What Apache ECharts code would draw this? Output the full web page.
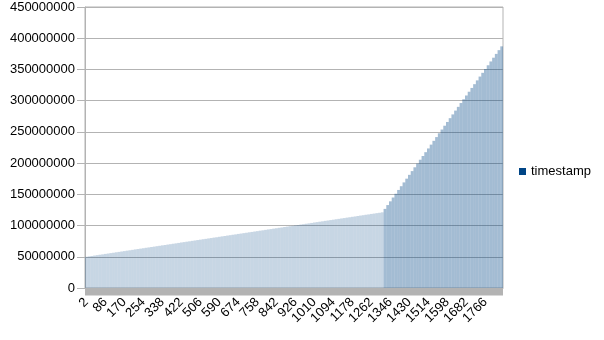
<!DOCTYPE html>
<html>
<head>
<meta charset="utf-8">
<script src="https://cdn.jsdelivr.net/npm/echarts@6/dist/echarts.min.js"></script>
<style>
html,body{margin:0;padding:0;background:#fff;}
#chart{width:604px;height:340px;}
</style>
</head>
<body>
<div id="chart"></div>
<script>
// Category labels (row numbers), one bar per 12 rows
const categories = [2,14,26,38,50,62,74,86,98,110,122,134,146,158,170,182,194,206,218,230,242,254,266,278,290,302,314,326,338,350,362,374,386,398,410,422,434,446,458,470,482,494,506,518,530,542,554,566,578,590,602,614,626,638,650,662,674,686,698,710,722,734,746,758,770,782,794,806,818,830,842,854,866,878,890,902,914,926,938,950,962,974,986,998,1010,1022,1034,1046,1058,1070,1082,1094,1106,1118,1130,1142,1154,1166,1178,1190,1202,1214,1226,1238,1250,1262,1274,1286,1298,1310,1322,1334,1346,1358,1370,1382,1394,1406,1418,1430,1442,1454,1466,1478,1490,1502,1514,1526,1538,1550,1562,1574,1586,1598,1610,1622,1634,1646,1658,1670,1682,1694,1706,1718,1730,1742,1754,1766,1778,1790,1802,1814,1826,1838];

// timestamp values
const timestamp = [
50.0e6,50.7e6,51.3e6,52.0e6,52.6e6,53.3e6,53.9e6,54.6e6,55.2e6,55.9e6,
56.5e6,57.2e6,57.8e6,58.5e6,59.1e6,59.8e6,60.4e6,61.1e6,61.8e6,62.4e6,
63.1e6,63.7e6,64.4e6,65.0e6,65.7e6,66.3e6,67.0e6,67.6e6,68.3e6,68.9e6,
69.6e6,70.2e6,70.9e6,71.5e6,72.2e6,72.9e6,73.5e6,74.2e6,74.8e6,75.5e6,
76.1e6,76.8e6,77.4e6,78.1e6,78.7e6,79.4e6,80.0e6,80.7e6,81.3e6,82.0e6,
82.7e6,83.3e6,84.0e6,84.6e6,85.3e6,85.9e6,86.6e6,87.2e6,87.9e6,88.5e6,
89.2e6,89.8e6,90.5e6,91.1e6,91.8e6,92.4e6,93.1e6,93.8e6,94.4e6,95.1e6,
95.7e6,96.4e6,97.0e6,97.7e6,98.3e6,99.0e6,99.6e6,100.3e6,100.9e6,101.6e6,
102.2e6,102.9e6,103.5e6,104.2e6,104.9e6,105.5e6,106.2e6,106.8e6,107.5e6,108.1e6,
108.8e6,109.4e6,110.1e6,110.7e6,111.4e6,112.0e6,112.7e6,113.3e6,114.0e6,114.6e6,
115.3e6,116.0e6,116.6e6,117.3e6,117.9e6,118.6e6,119.2e6,119.9e6,120.5e6,121.2e6,
126.7e6,132.8e6,138.8e6,144.9e6,150.9e6,157.0e6,163.0e6,169.1e6,175.1e6,181.2e6,
187.2e6,193.3e6,199.3e6,205.4e6,211.4e6,217.5e6,223.5e6,229.6e6,235.7e6,241.7e6,
247.8e6,253.8e6,259.9e6,265.9e6,272.0e6,278.0e6,284.1e6,290.1e6,296.2e6,302.2e6,
308.3e6,314.3e6,320.4e6,326.4e6,332.5e6,338.6e6,344.6e6,350.7e6,356.7e6,362.8e6,
368.8e6,374.9e6,380.9e6,387.0e6
];

// y axis range
const yMin = 0;
const yMax = 450000000;
const yStep = 50000000;

const FONT = 'Liberation Sans';
const steepStartIndex = 110;

const chart = echarts.init(document.getElementById('chart'), null, {renderer: 'canvas'});
chart.setOption({
  animation: false,
  backgroundColor: '#ffffff',
  textStyle: {fontFamily: FONT},
  grid: {left: 85, right: 101, top: 7, bottom: 52, show: true, borderColor: '#b3b3b3', borderWidth: 1},
  legend: {
    data: ['timestamp'],
    left: 519, top: 165,
    icon: 'rect', itemWidth: 7, itemHeight: 7, itemGap: 5, padding: 0,
    textStyle: {fontFamily: FONT, fontSize: 13, color: '#000'}
  },
  xAxis: {
    type: 'category',
    data: categories,
    axisLine: {show: true, lineStyle: {color: '#b3b3b3', width: 1}},
    axisTick: {show: false},
    axisLabel: {rotate: 45, interval: 6, margin: 12, fontFamily: FONT, fontSize: 13, color: '#000'},
    splitLine: {show: false}
  },
  yAxis: {
    type: 'value',
    min: yMin, max: yMax, interval: yStep,
    axisLine: {show: true, lineStyle: {color: '#b3b3b3', width: 1}},
    axisTick: {show: true, length: 8, lineStyle: {color: '#b3b3b3'}},
    axisLabel: {margin: 10, fontFamily: FONT, fontSize: 13, color: '#000', formatter: v => String(v)},
    splitLine: {show: true, lineStyle: {color: '#b3b3b3', width: 1}}
  },
  series: [{
    name: 'timestamp',
    type: 'bar',
    data: timestamp,
    barCategoryGap: 0,
    barGap: 0,
    color: '#004586',
    itemStyle: {
      color: p => p.dataIndex >= steepStartIndex ? 'rgba(0,69,134,0.36)' : 'rgba(0,69,134,0.22)'
    }
  }]
});

// grey chart floor under the plot area, placed from the grid's own rectangle
const gridRect = chart.getModel().getComponent('grid', 0).coordinateSystem.getRect();
chart.setOption({
  graphic: [{
    type: 'rect',
    z: 100,
    shape: {x: gridRect.x, y: gridRect.y + gridRect.height + 0.5, width: gridRect.width, height: 7},
    style: {fill: '#b3b3b3'}
  }]
});
</script>
</body>
</html>
